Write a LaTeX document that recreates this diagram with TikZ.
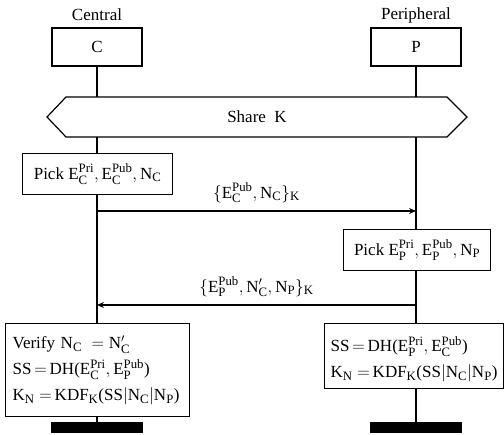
\documentclass[tikz,border=0pt]{standalone}
\usepackage{amsmath}
\usepackage{fontspec}
\setmainfont{Liberation Serif}
\usetikzlibrary{arrows.meta}
\DeclareMathSizes{17}{17}{12.8}{10}
\newcommand{\tx}[1]{\text{#1}}
\newcommand{\Ek}[2]{\tx{E}^{\tx{#2}}_{\tx{#1}}}
\newcommand{\Nn}[1]{\tx{N}_{\tx{#1}}}
\begin{document}
\begin{tikzpicture}[x=1pt,y=-1pt,line width=1.2pt,
  every node/.style={font=\fontsize{17}{20}\selectfont},
  actor/.style={draw,minimum width=90pt,minimum height=38pt,inner sep=0pt},
  act/.style={draw,inner sep=0pt,anchor=north west},
  calc/.style={act,align=left,font=\fontsize{17}{26}\selectfont},
  msg/.style={-{Stealth[length=7pt,width=6pt,inset=2.5pt]}}]
\useasboundingbox (0,0) rectangle (504,435);
% participants
\node (cl) at (97,15) {Central};
\node (pl) at (416,15) {Peripheral};
\node[actor] (c) at (97,47) {C};
\node[actor] (p) at (416,47) {P};
% shared key phase
\draw[fill=white] (47,117) -- (66,97) -- (447,97) -- (467,117) -- (447,137) -- (66,137) -- cycle;
\node (share) at (257,117) {Share\ \ K};
% local computations
\node[act,minimum width=150pt,minimum height=41pt] (pc) at (22,153)
  {Pick $\Ek{C}{Pri},\Ek{C}{Pub},\Nn{C}$};
\node[act,minimum width=147pt,minimum height=41pt] (pp) at (343,229)
  {Pick $\Ek{P}{Pri},\Ek{P}{Pub},\Nn{P}$};
\node[calc,inner xsep=7pt,text width=170pt,minimum height=93pt] (vc) at (5,323)
  {\mbox{Verify $\Nn{C}\;=\tx{N}'_{\tx{C}}$}\\
   \mbox{SS$\,=\,$DH($\Ek{C}{Pri},\Ek{P}{Pub}$)}\\
   \mbox{$\tx{K}_{\tx{N}}$$\;=\,$KDF$_{\tx{K}}$(SS$|\Nn{C}|\Nn{P}$)}};
\node[calc,inner xsep=6pt,text width=167pt,minimum height=65pt] (vp) at (324,323)
  {\mbox{\rule{0pt}{22pt}SS$\,=\,$DH($\Ek{P}{Pri},\Ek{C}{Pub}$)}\\
   \mbox{$\tx{K}_{\tx{N}}$$\;=\,$KDF$_{\tx{K}}$(SS$|\Nn{C}|\Nn{P}$)}};
% end bars
\fill (51,422) rectangle (143,433);
\fill (370,422) rectangle (462,433);
% lifelines
\coordinate (ce) at (97,422);
\coordinate (pe) at (416,422);
\draw (c.south) -- (c.south |- 0,97);
\draw (p.south) -- (p.south |- 0,97);
\draw (c.south |- 0,137) -- (c.south |- pc.north);
\draw (p.south |- 0,137) -- (p.south |- pp.north);
\draw (c.south |- pc.south) -- (c.south |- vc.north);
\draw (p.south |- pp.south) -- (p.south |- vp.north);
\draw (c.south |- vc.south) -- (ce);
\draw (p.south |- vp.south) -- (pe);
% messages
\coordinate (m1s) at (97,211);
\coordinate (m1e) at (416,211);
\draw[msg] (m1s) -- node[above=4pt] {$\{\Ek{C}{Pub},\Nn{C}\}_{\tx{K}}$} (m1e);
\coordinate (m2s) at (416,305);
\coordinate (m2e) at (97,305);
\draw[msg] (m2s) -- node[above=4pt] {$\{\Ek{P}{Pub},\tx{N}'_{\tx{C}},\Nn{P}\}_{\tx{K}}$} (m2e);
\end{tikzpicture}
\end{document}
